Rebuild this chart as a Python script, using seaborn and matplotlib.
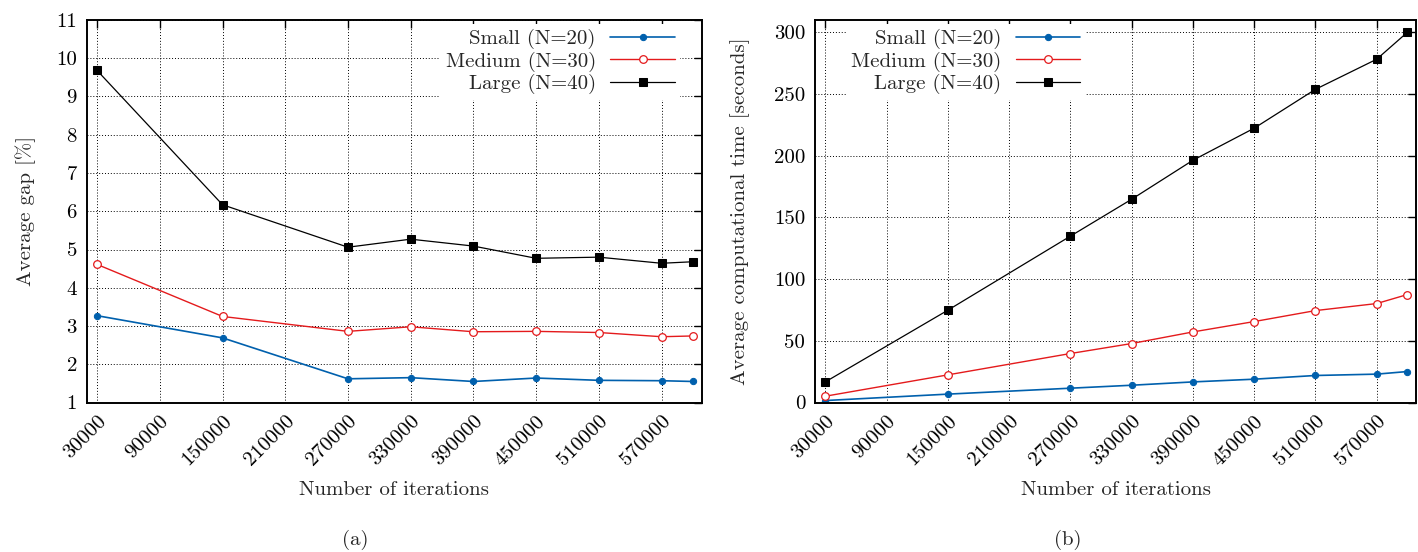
import numpy as np
import pandas as pd
import matplotlib
matplotlib.use("Agg")
import matplotlib.pyplot as plt
import seaborn as sns

# ---- data ----
iterations = [30000, 150000, 270000, 330000, 390000, 450000, 510000, 570000, 600000]
series_names = ["Small (N=20)", "Medium (N=30)", "Large (N=40)"]

gap_small = [3.27, 2.69, 1.62, 1.65, 1.55, 1.64, 1.58, 1.57, 1.55]
gap_medium = [4.61, 3.25, 2.86, 2.98, 2.85, 2.86, 2.83, 2.72, 2.74]
gap_large = [9.68, 6.17, 5.06, 5.27, 5.09, 4.77, 4.80, 4.64, 4.68]

time_small = [1.6, 6.8, 11.6, 14.0, 16.7, 18.9, 21.9, 23.0, 25.1]
time_medium = [5.1, 22.4, 39.7, 47.8, 57.2, 65.6, 74.5, 80.2, 87.5]
time_large = [16.7, 74.8, 134.8, 164.7, 196.3, 222.3, 253.8, 278.2, 300.0]

xticks = [30000, 90000, 150000, 210000, 270000, 330000, 390000, 450000, 510000, 570000]

# ---- style ----
sns.set_theme(style="white")
plt.rcParams["font.family"] = ["cmr10", "DejaVu Serif"]
plt.rcParams["mathtext.fontset"] = "cm"
plt.rcParams["axes.formatter.use_mathtext"] = True
FS = 15
plt.rcParams["font.size"] = FS

colors = ["#0060ad", "#e41a1c", "#000000"]
styles = [
    dict(marker="o", markersize=4.5, markerfacecolor="#0060ad", markeredgecolor="#0060ad", linewidth=1.2),
    dict(marker="o", markersize=5.5, markerfacecolor="white", markeredgecolor="#e41a1c", markeredgewidth=0.9, linewidth=1.0),
    dict(marker="s", markersize=5.5, markerfacecolor="black", markeredgecolor="black", linewidth=0.9),
]

fig = plt.figure(figsize=(14.18, 5.52), dpi=100)
ax1 = fig.add_axes([0.0611, 0.2708, 0.4338, 0.6930])
ax2 = fig.add_axes([0.5748, 0.2708, 0.4238, 0.6930])

def draw(ax, data, ylim, yticks, ylabel, ylabel_x, leg_anchor):
    for name, vals, col, st in zip(series_names, data, colors, styles):
        df = pd.DataFrame({"x": iterations, "y": vals})
        sns.lineplot(data=df, x="x", y="y", ax=ax, color=col, label=name, **st)
    ax.set_xlim(20000, 608500)
    ax.set_ylim(*ylim)
    ax.set_xticks(xticks)
    ax.set_xticklabels([str(t) for t in xticks], rotation=45, ha="right", va="top",
                       rotation_mode="anchor")
    ax.set_yticks(yticks)
    ax.set_yticklabels([str(t) for t in yticks])
    ax.grid(True, color="black", linestyle=(0, (1, 2)), linewidth=0.7)
    ax.set_axisbelow(True)
    ax.tick_params(direction="in", length=6, width=1.0, top=True, right=True,
                   labelsize=FS, colors="black", pad=7)
    for s in ax.spines.values():
        s.set_linewidth(1.4)
        s.set_color("black")
    ax.set_xlabel("Number of iterations", fontsize=FS)
    ax.xaxis.set_label_coords(0.5, -0.205)
    ax.set_ylabel(ylabel, fontsize=FS)
    ax.yaxis.set_label_coords(ylabel_x, 0.5)
    leg = ax.legend(loc="upper right", bbox_to_anchor=leg_anchor, markerfirst=False,
                    frameon=True, fancybox=False, framealpha=1.0, edgecolor="white",
                    facecolor="white", fontsize=FS, handlelength=3.1, handletextpad=0.7,
                    labelspacing=0.12, borderpad=0.25, borderaxespad=0.0)
    for t in leg.get_texts():
        t.set_ha("right")
    leg._legend_box.align = "right"
    leg.get_frame().set_linewidth(0)

draw(ax1, [gap_small, gap_medium, gap_large], (1, 11), list(range(1, 12)),
     "Average gap [%]", -0.082, (0.965, 0.99))
draw(ax2, [time_small, time_medium, time_large], (0, 310), list(range(0, 301, 50)),
     "Average computational time [seconds]", -0.108, (0.45, 0.99))

fig.text(355 / 1418, 1 - 540 / 552, "(a)", ha="center", va="center", fontsize=FS)
fig.text(1068 / 1418, 1 - 540 / 552, "(b)", ha="center", va="center", fontsize=FS)

fig.savefig("out.png", dpi=100)
